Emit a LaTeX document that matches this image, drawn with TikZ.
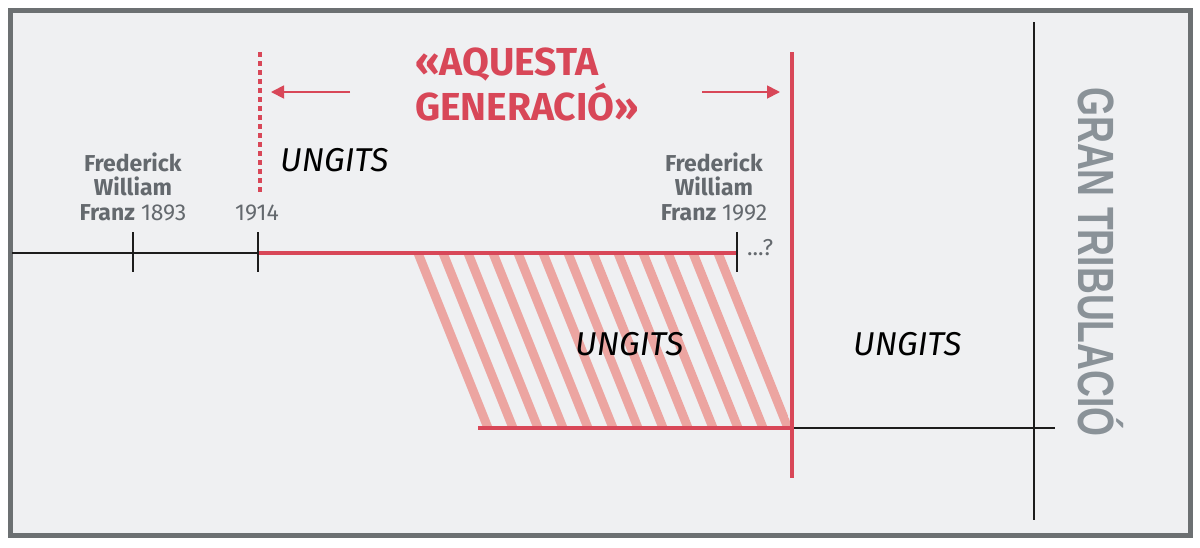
\documentclass[tikz,border=0pt]{standalone}
\usepackage{graphicx}
\usepackage{fontspec}
\setmainfont{Fira Sans}
\newfontfamily\gtfont{Liberation Sans}
\usetikzlibrary{arrows.meta,calc}
\definecolor{bgc}{RGB}{239,240,242}
\definecolor{framec}{RGB}{108,112,114}
\definecolor{rd}{RGB}{216,71,88}
\definecolor{hatchc}{RGB}{236,165,161}
\definecolor{lblc}{RGB}{100,105,110}
\definecolor{gtc}{RGB}{138,146,152}
\definecolor{ink}{RGB}{28,28,28}
\begin{document}
\begin{tikzpicture}[x=1pt,y=-1pt,
  blk/.style={draw=ink,line width=2.5pt},
  redl/.style={draw=rd,line width=4.5pt},
  hatchline/.style={draw=hatchc,line width=9pt},
  arr/.style={draw=rd,line width=1.8pt,-{Triangle[length=13pt,width=13pt]}},
  lbl/.style={text=lblc,font=\fontsize{23}{24.5}\selectfont,align=center,anchor=base,inner sep=0pt},
  ung/.style={text=black,font=\itshape\fontsize{33}{33}\selectfont,anchor=base west,inner sep=0pt},
  ttl/.style={text=rd,font=\bfseries\fontsize{39}{41}\selectfont,align=left,anchor=base west,inner sep=0pt}]
\useasboundingbox (0,0) rectangle (1200,547);
\fill[white] (0,0) rectangle (1200,547);
\draw[draw=framec,line width=5pt,fill=bgc] (10,10) rectangle (1190,535);

% hatched parallelogram
\begin{scope}
\clip (410,253) -- (737,253) -- (792,428) -- (480,428) -- cycle;
\foreach \i in {0,...,14} {
  \draw[hatchline] (418+25*\i,253) -- ++(70,175);
}
\end{scope}

% coordinates
\coordinate (tl0) at (12,253);
\coordinate (t1893) at (133,253);
\coordinate (t1914) at (258,253);
\coordinate (t1992) at (737,253);
\coordinate (b0) at (478,428);
\coordinate (bmid) at (792,428);
\coordinate (bend) at (1055,428);
\coordinate (rtop) at (792,52);
\coordinate (rbot) at (792,478);
\coordinate (dtop) at (260,52);
\coordinate (dbot) at (260,192);
\coordinate (gtop) at (1034,22);
\coordinate (gbot) at (1034,520);
\coordinate (a1s) at (350,92);
\coordinate (a1e) at (271,92);
\coordinate (a2s) at (702,92);
\coordinate (a2e) at (780,92);

% timeline top
\draw[blk] (tl0) -- (t1914);
\draw[redl] (t1914) -- (t1992);
\draw[blk] ($(t1893)+(0,-21)$) -- ($(t1893)+(0,19)$);
\draw[blk] ($(t1914)+(0,-21)$) -- ($(t1914)+(0,19)$);
\draw[blk] ($(t1992)+(0,-21)$) -- ($(t1992)+(0,19)$);

% bottom line
\draw[redl] (b0) -- (bmid);
\draw[blk] (bmid) -- (bend);

% verticals
\draw[draw=rd,line width=3.5pt,dash pattern=on 5pt off 4pt] (dtop) -- (dbot);
\draw[draw=rd,line width=3.5pt] (rtop) -- (rbot);
\draw[draw=ink,line width=2.5pt] (gtop) -- (gbot);

% arrows
\draw[arr] (a1s) -- (a1e);
\draw[arr] (a2s) -- (a2e);

% texts
\node[ttl] (title) at (415,120) {«AQUESTA\\GENERACIÓ»};
\node[lbl] (fwf1) at (133,220) {\textbf{Frederick}\\\textbf{William}\\\textbf{Franz} 1893};
\node[lbl] (y1914) at (257,220) {1914};
\node[lbl] (fwf2) at (714,220) {\textbf{Frederick}\\\textbf{William}\\\textbf{Franz} 1992};
\node[lbl,anchor=base west] (qm) at (747,255) {...?};
\node[ung] (u1) at (280,171) {UNGITS};
\node[ung] (u2) at (575,355) {UNGITS};
\node[ung] (u3) at (853,355) {UNGITS};
\node[text=gtc,rotate=-90,anchor=base,inner sep=0pt] (gt) at (1078,262) {\gtfont\bfseries\fontsize{51}{51}\selectfont\scalebox{0.73}[1]{GRAN TRIBULACIÓ}};
\end{tikzpicture}
\end{document}
